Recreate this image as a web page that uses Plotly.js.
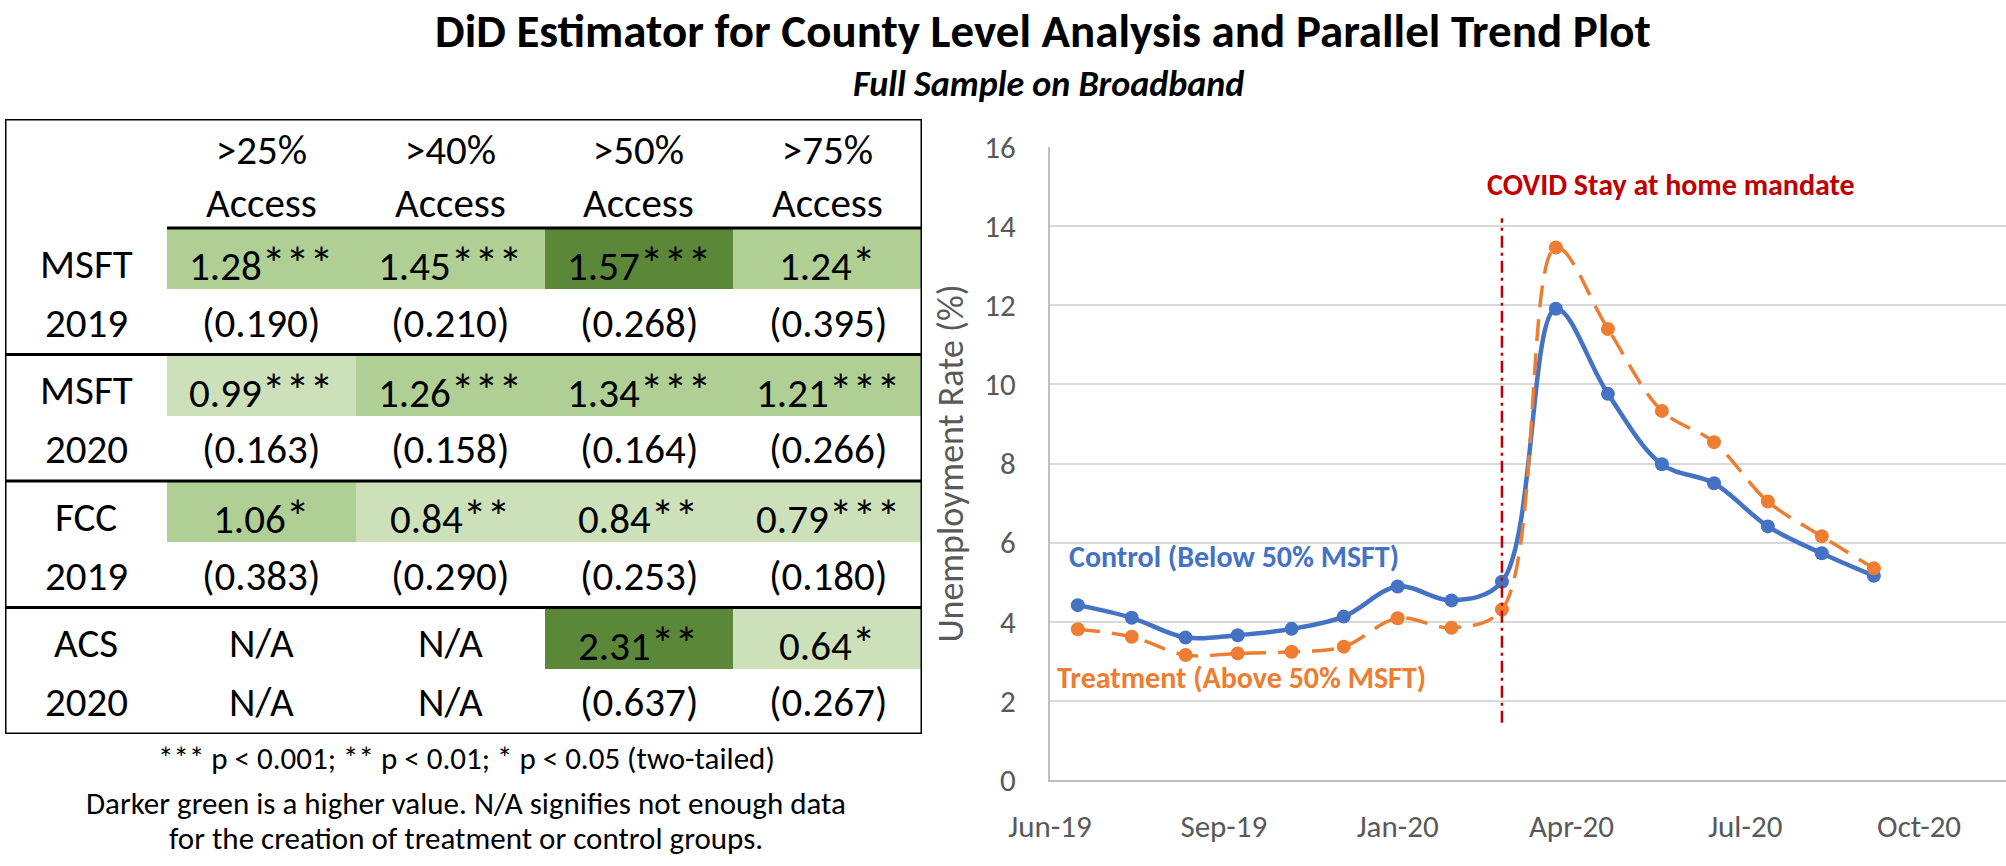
<!DOCTYPE html>
<html>
<head>
<meta charset="utf-8">
<script src="https://cdn.plot.ly/plotly-3.0.1.min.js"></script>
<style>html,body{margin:0;padding:0;background:#fff;}#chart{width:2006px;height:866px;}</style>
</head>
<body>
<div id="chart"></div>
<script>
// ---------------- DATA ----------------
const chartTitle = 'DiD Estimator for County Level Analysis and Parallel Trend Plot';
const chartSubtitle = 'Full Sample on Broadband';

// Table
const colThresholds = ['>25%', '>40%', '>50%', '>75%'];
const colSuffix = 'Access';
const groupNames = ['MSFT', 'MSFT', 'FCC', 'ACS'];
const groupYears = ['2019', '2020', '2019', '2020'];
const coefs = [
  [1.28, 1.45, 1.57, 1.24],
  [0.99, 1.26, 1.34, 1.21],
  [1.06, 0.84, 0.84, 0.79],
  [null, null, 2.31, 0.64]
];
const stars = [
  ['***', '***', '***', '*'],
  ['***', '***', '***', '***'],
  ['*', '**', '**', '***'],
  ['', '', '**', '*']
];
const stdErrs = [
  ['0.190', '0.210', '0.268', '0.395'],
  ['0.163', '0.158', '0.164', '0.266'],
  ['0.383', '0.290', '0.253', '0.180'],
  [null, null, '0.637', '0.267']
];
const naText = 'N/A';
const footnotes = [
  '*** p < 0.001; ** p < 0.01; * p < 0.05 (two-tailed)',
  'Darker green is a higher value. N/A signifies not enough data',
  'for the creation of treatment or control groups.'
];

// Line chart
const months = ['2019-07-01','2019-08-01','2019-09-01','2019-10-01','2019-11-01','2019-12-01',
                '2020-01-01','2020-02-01','2020-03-01','2020-04-01','2020-05-01','2020-06-01',
                '2020-07-01','2020-08-01','2020-09-01','2020-10-01'];
const control   = [4.42, 4.10, 3.60, 3.66, 3.82, 4.13, 4.89, 4.54, 5.01, 11.91, 9.76, 7.98, 7.50, 6.41, 5.73, 5.16];
const treatment = [3.81, 3.62, 3.16, 3.20, 3.24, 3.37, 4.09, 3.85, 4.31, 13.46, 11.40, 9.33, 8.54, 7.04, 6.16, 5.35];
const controlName = 'Control (Below 50% MSFT)';
const treatmentName = 'Treatment (Above 50% MSFT)';
const mandateDate = '2020-03-01';
const mandateLabel = 'COVID Stay at home mandate';
const yTitle = 'Unemployment Rate (%)';

// ---------------- FONT ----------------
function hasFont(name) {
  const c = document.createElement('canvas').getContext('2d');
  const t = 'mmmmmmmmmmlli1WQ@#';
  c.font = '72px monospace';
  const a = c.measureText(t).width;
  c.font = '72px "' + name + '", monospace';
  const b = c.measureText(t).width;
  return a !== b;
}
const carlito = hasFont('Carlito');
const FONT = carlito ? 'Carlito, Lato, sans-serif' : 'Lato, sans-serif';
const k = carlito ? 1.0 : 0.89;
const S = v => Math.round(v * k);

// ---------------- GEOMETRY ----------------
const W = 2006, H = 866;
const px = x => x / W;
const py = y => 1 - y / H;
const tableLeft = 5, tableRight = 922, tableTop = 119, tableBottom = 734;
const headerH = 109;
const subRowH = (tableBottom - tableTop - headerH) / 8;
const labelW = (167 - tableLeft) / ((tableRight - 167) / 4);
const headerU = headerH / subRowH;
const plotLeft = 1050, plotBottom = 780, plotTop = 147;

const nG = groupNames.length, nC = colThresholds.length;

// heatmap z (value rows coloured, SE rows blank)
const zRows = [], yCenters = [];
for (let g = 0; g < nG; g++) {
  zRows.push(coefs[g]);
  zRows.push(coefs[g].map(() => null));
  yCenters.push(2 * g + 0.5, 2 * g + 1.5);
}
const xCenters = colThresholds.map((_, i) => i + 0.5);

const green = [[0, '#CCE1BA'], [1/3, '#CCE1BA'], [1/3, '#AFCF94'], [0.5, '#AFCF94'], [0.5, '#5B8739'], [1, '#5B8739']];

const traces = [
  {
    type: 'heatmap', xaxis: 'x2', yaxis: 'y2',
    x: xCenters, y: yCenters, z: zRows,
    zmin: 0, zmax: 3, colorscale: green, showscale: false,
    xgap: 0, ygap: 3, hoverinfo: 'skip'
  },
  {
    type: 'scatter', mode: 'lines+markers', name: controlName,
    x: months, y: control,
    line: {color: '#4472C4', width: 4.5, shape: 'spline', smoothing: 1},
    marker: {color: '#4472C4', size: 14}
  },
  {
    type: 'scatter', mode: 'lines+markers', name: treatmentName,
    x: months, y: treatment,
    line: {color: '#ED7D31', width: 3.5, shape: 'spline', smoothing: 1, dash: '22px,12px'},
    marker: {color: '#ED7D31', size: 14}
  }
];

const ann = [];
const shapes = [];
const black = '#000000';
const TS = S(41);
const starSpan = s => s ? '<span style="font-size:' + Math.round(TS * 1.18) + 'px">' + s + '</span>' : '';

// Titles
ann.push({xref: 'paper', yref: 'paper', x: px(1043), y: py(31), xanchor: 'center', yanchor: 'middle',
  text: '<b>' + chartTitle + '</b>', showarrow: false, font: {family: FONT, size: S(47), color: black}});
ann.push({xref: 'paper', yref: 'paper', x: px(1048), y: py(84), xanchor: 'center', yanchor: 'middle',
  text: '<b><i>' + chartSubtitle + '</i></b>', showarrow: false, font: {family: FONT, size: S(36), color: black}});

// Table header
colThresholds.forEach((t, i) => {
  ann.push({xref: 'x2', yref: 'y2', x: i + 0.5, y: -headerU / 2, yshift: -3, xanchor: 'center', yanchor: 'middle',
    text: t + '<br>' + colSuffix, showarrow: false, font: {family: FONT, size: TS, color: black}});
});
// Row labels and cells
for (let g = 0; g < nG; g++) {
  const yv = 2 * g + 0.5, ys = 2 * g + 1.5;
  ann.push({xref: 'x2', yref: 'y2', x: -labelW / 2, y: yv, yshift: -4, text: groupNames[g], showarrow: false,
    font: {family: FONT, size: TS, color: black}});
  ann.push({xref: 'x2', yref: 'y2', x: -labelW / 2, y: ys, yshift: 0, text: groupYears[g], showarrow: false,
    font: {family: FONT, size: TS, color: black}});
  for (let c = 0; c < nC; c++) {
    const v = coefs[g][c];
    const vt = v === null ? naText : v.toFixed(2) + starSpan(stars[g][c]);
    const se = stdErrs[g][c];
    const st = se === null ? naText : '(' + se + ')';
    ann.push({xref: 'x2', yref: 'y2', x: c + 0.5, y: yv, yshift: -4, text: vt, showarrow: false,
      font: {family: FONT, size: TS, color: black}});
    ann.push({xref: 'x2', yref: 'y2', x: c + 0.5, y: ys, yshift: 0, text: st, showarrow: false,
      font: {family: FONT, size: TS, color: black}});
  }
}
// Table lines
const lw = 3;
shapes.push({type: 'rect', xref: 'x2', yref: 'y2', x0: -labelW, x1: nC, y0: -headerU, y1: 2 * nG,
  line: {color: black, width: lw}, fillcolor: 'rgba(0,0,0,0)', layer: 'above'});
shapes.push({type: 'line', xref: 'x2', yref: 'y2', x0: 0, x1: nC, y0: 0, y1: 0, line: {color: black, width: lw}, layer: 'above'});
for (let g = 1; g < nG; g++) {
  shapes.push({type: 'line', xref: 'x2', yref: 'y2', x0: -labelW, x1: nC, y0: 2 * g, y1: 2 * g,
    line: {color: black, width: lw}, layer: 'above'});
}
// Footnotes
const fnY = [758, 803, 838];
footnotes.forEach((f, i) => {
  ann.push({xref: 'paper', yref: 'paper', x: px(466), y: py(fnY[i]), xanchor: 'center', yanchor: 'middle',
    text: f, showarrow: false, font: {family: FONT, size: S(31), color: black}});
});

// Line chart annotations
ann.push({xref: 'x', yref: 'y', x: '2019-06-25', y: 5.64, xanchor: 'left', yanchor: 'middle',
  text: '<b>' + controlName + '</b>', showarrow: false, font: {family: FONT, size: S(30), color: '#4472C4'}});
ann.push({xref: 'x', yref: 'y', x: '2019-06-18', y: 2.58, xanchor: 'left', yanchor: 'middle',
  text: '<b>' + treatmentName + '</b>', showarrow: false, font: {family: FONT, size: S(30), color: '#ED7D31'}});
ann.push({xref: 'x', yref: 'y', x: '2020-02-20', y: 15.04, xanchor: 'left', yanchor: 'middle',
  text: '<b>' + mandateLabel + '</b>', showarrow: false, font: {family: FONT, size: S(30), color: '#C00000'}});
shapes.push({type: 'line', xref: 'x', yref: 'y', x0: mandateDate, x1: mandateDate, y0: 1.45, y1: 14.2,
  line: {color: '#C00000', width: 2.5, dash: '12px,5px,3px,5px'}, layer: 'above'});

const layout = {
  width: W, height: H,
  margin: {l: 0, r: 0, t: 0, b: 0, pad: 0},
  paper_bgcolor: '#ffffff', plot_bgcolor: 'rgba(0,0,0,0)',
  showlegend: false,
  font: {family: FONT, color: '#595959'},
  xaxis: {
    type: 'date', domain: [px(plotLeft), 1], anchor: 'y',
    range: ['2019-06-15', '2020-12-16'],
    tick0: '2019-06-15', dtick: 100 * 86400000, tickformat: '%b-%y',
    showgrid: false, zeroline: false,
    showline: true, linecolor: '#BFBFBF', linewidth: 2,
    ticks: 'outside', ticklen: 18, tickcolor: 'rgba(0,0,0,0)',
    tickfont: {family: FONT, size: S(31), color: '#595959'},
    automargin: false, fixedrange: true
  },
  yaxis: {
    domain: [py(plotBottom), py(plotTop)], anchor: 'x',
    range: [0, 16], dtick: 2, tick0: 0,
    showgrid: true, gridcolor: '#D9D9D9', gridwidth: 2, zeroline: false,
    showline: true, linecolor: '#BFBFBF', linewidth: 2,
    ticks: 'outside', ticklen: 26, tickcolor: 'rgba(0,0,0,0)',
    tickfont: {family: FONT, size: S(31), color: '#595959'},
    title: {text: yTitle, standoff: 10, font: {family: FONT, size: S(36), color: '#595959'}},
    automargin: false, fixedrange: true
  },
  xaxis2: {domain: [px(tableLeft), px(tableRight)], anchor: 'y2', range: [-labelW, nC], visible: false, fixedrange: true},
  yaxis2: {domain: [py(tableBottom), py(tableTop)], anchor: 'x2', range: [2 * nG, -headerU], visible: false, fixedrange: true},
  annotations: ann,
  shapes: shapes
};

Plotly.newPlot('chart', traces, layout, {staticPlot: true, displayModeBar: false});
</script>
</body>
</html>
